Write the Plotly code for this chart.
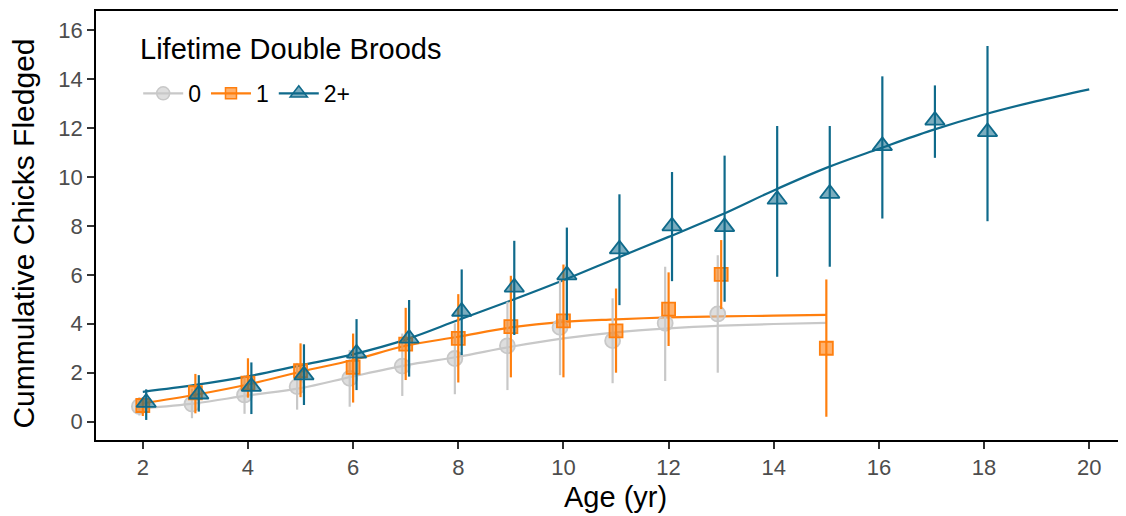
import plotly.graph_objects as go

# ---- data ----
ages0 = [2, 3, 4, 5, 6, 7, 8, 9, 10, 11, 12, 13]
mean0 = [0.62, 0.72, 1.09, 1.43, 1.77, 2.27, 2.58, 3.10, 3.85, 3.31, 4.02, 4.40]
lo0 = [0.25, 0.14, 0.32, 0.49, 0.61, 1.05, 1.12, 1.29, 1.90, 1.57, 1.66, 2.00]
hi0 = [1.00, 1.35, 1.90, 2.40, 2.93, 3.60, 4.02, 4.90, 5.78, 5.04, 6.33, 6.80]

ages1 = [2, 3, 4, 5, 6, 7, 8, 9, 10, 11, 12, 13, 15]
mean1 = [0.66, 1.18, 1.57, 2.08, 2.22, 3.17, 3.40, 3.88, 4.12, 3.71, 4.60, 6.02, 3.00]
lo1 = [0.23, 0.34, 0.98, 1.00, 0.78, 1.70, 1.60, 1.81, 1.81, 2.00, 3.09, 4.60, 0.20]
hi1 = [1.00, 1.95, 2.59, 3.20, 3.60, 4.65, 5.21, 5.96, 6.42, 5.44, 6.10, 7.42, 5.81]

ages2 = [2, 3, 4, 5, 6, 7, 8, 9, 10, 11, 12, 13, 14, 15, 16, 17, 18]
mean2 = [0.78, 1.12, 1.43, 1.90, 2.79, 3.40, 4.50, 5.49, 5.99, 7.05, 7.99, 7.96, 9.08, 9.32, 11.27, 12.31, 11.84]
lo2 = [0.07, 0.41, 0.31, 0.68, 1.29, 1.84, 2.72, 3.54, 4.15, 4.76, 5.74, 4.90, 5.92, 6.33, 8.30, 10.78, 8.19]
hi2 = [1.32, 1.90, 2.42, 3.16, 4.19, 4.97, 6.22, 7.39, 7.93, 9.29, 10.20, 10.87, 12.08, 12.08, 14.11, 13.74, 15.35]

curve_x01 = [2, 3, 4, 5, 6, 7, 8, 9, 10, 11, 12, 13, 14, 15]
curve0 = [0.55, 0.75, 1.07, 1.37, 1.85, 2.30, 2.65, 3.06, 3.40, 3.65, 3.81, 3.92, 3.99, 4.04]
curve1 = [0.75, 1.10, 1.52, 2.04, 2.52, 3.10, 3.47, 3.85, 4.08, 4.18, 4.26, 4.30, 4.33, 4.36]
curve_x2 = [2, 3, 4, 5, 6, 7, 8, 9, 10, 11, 12, 13, 14, 15, 16, 17, 18, 19, 20]
curve2 = [1.22, 1.50, 1.85, 2.30, 2.75, 3.35, 4.15, 4.95, 5.78, 6.67, 7.55, 8.45, 9.45, 10.37,
          11.15, 11.90, 12.55, 13.10, 13.58]

labels = ["0", "1", "2+"]
legend_title = "Lifetime Double Broods"
x_title = "Age (yr)"
y_title = "Cummulative Chicks Fledged"
xticks = [2, 4, 6, 8, 10, 12, 14, 16, 18, 20]
yticks = [0, 2, 4, 6, 8, 10, 12, 14, 16]

# ---- styles ----
GRAY = "#c8c8c8"
ORANGE = "#ff7f0e"
BLUE = "#0f6a8b"
FONT = "Liberation Sans, Arial, sans-serif"

groups = [
    dict(ages=ages0, mean=mean0, lo=lo0, hi=hi0, cx=curve_x01, cy=curve0, color=GRAY,
         fill="rgba(200,200,200,0.6)", symbol="circle", size=15, dodge=-0.065),
    dict(ages=ages1, mean=mean1, lo=lo1, hi=hi1, cx=curve_x01, cy=curve1, color=ORANGE,
         fill="rgba(255,127,14,0.6)", symbol="square", size=13, dodge=0.0),
    dict(ages=ages2, mean=mean2, lo=lo2, hi=hi2, cx=curve_x2, cy=curve2, color=BLUE,
         fill="rgba(15,106,139,0.55)", symbol="triangle-up", size=17, dodge=0.065),
]

fig = go.Figure()

for lab, g in zip(labels, groups):
    fig.add_trace(go.Scatter(
        x=g["cx"], y=g["cy"], mode="lines", line=dict(color=g["color"], width=2.2, shape="spline"),
        showlegend=False, hoverinfo="skip"))

for lab, g in zip(labels, groups):
    xs = [a + g["dodge"] for a in g["ages"]]
    fig.add_trace(go.Scatter(
        x=xs, y=g["mean"], mode="markers",
        marker=dict(symbol=g["symbol"], size=g["size"], color=g["fill"],
                    line=dict(color=g["color"], width=1.8)),
        error_y=dict(type="data", symmetric=False,
                     array=[h - m for h, m in zip(g["hi"], g["mean"])],
                     arrayminus=[m - l for m, l in zip(g["mean"], g["lo"])],
                     color=g["color"], thickness=2.2, width=0),
        showlegend=False, name=lab))

for lab, g in zip(labels, groups):
    fig.add_trace(go.Scatter(
        x=[None], y=[None], mode="lines+markers", name=lab,
        line=dict(color=g["color"], width=2.2),
        marker=dict(symbol=g["symbol"], size=g["size"] - 2, color=g["fill"],
                    line=dict(color=g["color"], width=1.5))))

axis_common = dict(showgrid=False, zeroline=False, showline=True, linecolor="black",
                   linewidth=1.5, mirror=True, ticks="outside", ticklen=7, tickwidth=1.5,
                   tickcolor="#333333", automargin=False,
                   tickfont=dict(family=FONT, size=22, color="#4d4d4d"))

# the page body adds an 8px offset, so the figure is sized/margined to compensate
fig.update_layout(
    width=1118, height=508,
    margin=dict(l=88, r=1, t=3, b=76),
    plot_bgcolor="white", paper_bgcolor="white",
    font=dict(family=FONT, color="black"),
    xaxis=dict(range=[1.11, 20.68], tickvals=xticks, ticktext=[str(v) for v in xticks],
               **axis_common),
    yaxis=dict(range=[-0.75, 16.78], tickvals=yticks, ticktext=[str(v) for v in yticks],
               **axis_common),
    legend=dict(orientation="h", x=0.041, y=0.808, xanchor="left", yanchor="middle",
                bgcolor="rgba(255,255,255,0)",
                font=dict(size=23, family=FONT), itemwidth=40),
    annotations=[
        dict(text=legend_title, xref="paper", yref="paper", x=0.041, y=0.911,
             xanchor="left", yanchor="middle", showarrow=False,
             font=dict(size=29, family=FONT, color="black")),
        dict(text=x_title, xref="paper", yref="paper", x=0.505, y=-0.133,
             xanchor="center", yanchor="middle", showarrow=False,
             font=dict(size=29, family=FONT, color="black")),
        dict(text=y_title, xref="paper", yref="paper", x=-0.07, y=0.481, textangle=-90,
             xanchor="center", yanchor="middle", showarrow=False,
             font=dict(size=30, family=FONT, color="black")),
    ],
)

fig.write_html("out.html")
